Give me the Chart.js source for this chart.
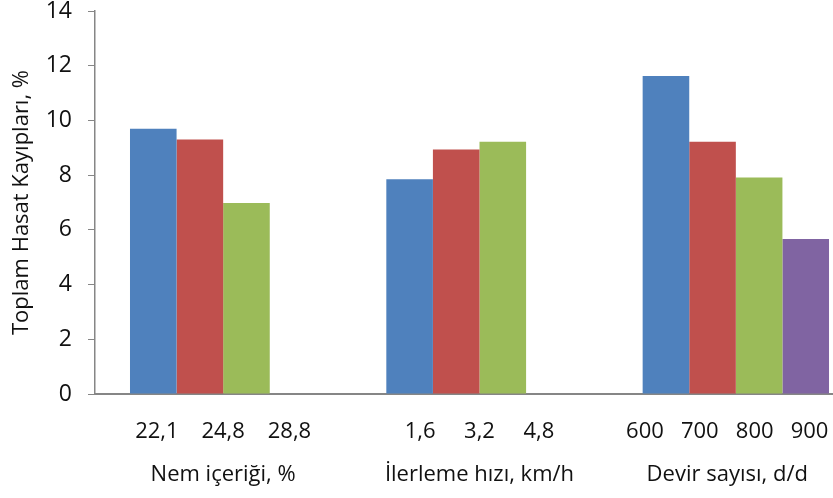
<!DOCTYPE html>
<html>
<head>
<meta charset="utf-8">
<script src="https://cdn.jsdelivr.net/npm/chart.js@4/dist/chart.umd.min.js"></script>
<style>
  html, body { margin: 0; padding: 0; background: #fff; overflow: hidden; width: 833px; height: 498px; }
  #wrap { width: 864px; height: 498px; }
</style>
</head>
<body>
<div id="wrap"><canvas id="c" width="864" height="498"></canvas></div>
<script>
// Factor groups and the level values tested within each group
const groupNames = ["Nem içeriği, %", "İlerleme hızı, km/h", "Devir sayısı, d/d   "];
const levelLabels = [
  ["22,1", "24,8", "28,8"],
  ["1,6", "3,2", "4,8"],
  ["600", "700", "800", "900   "]
];
const levelGaps = ["    ", "     ", "   "];

// Total harvest losses (%) for the 1st..4th level of each factor
const level1 = [9.7, 7.85, 11.62];
const level2 = [9.3, 8.94, 9.22];
const level3 = [6.98, 9.22, 7.91];
const level4 = [null, null, 5.67];

const yTicks = [0, 2, 4, 6, 8, 10, 12, 14];

const categories = groupNames.map((g, i) => [levelLabels[i].join(levelGaps[i]), "", g]);

const axisGray = "#868686";
const font = "'Open Sans', Lato, sans-serif";

new Chart(document.getElementById("c"), {
  type: "bar",
  data: {
    labels: categories,
    datasets: [
      { data: level1, backgroundColor: "#4F81BD" },
      { data: level2, backgroundColor: "#C0504D" },
      { data: level3, backgroundColor: "#9BBB59" },
      { data: level4, backgroundColor: "#8064A2" }
    ]
  },
  options: {
    responsive: false,
    devicePixelRatio: 1,
    animation: false,
    layout: { padding: { top: 11, right: 0, bottom: 0, left: 0 } },
    datasets: { bar: { categoryPercentage: 0.727, barPercentage: 1.0, borderWidth: 0 } },
    plugins: { legend: { display: false }, tooltip: { enabled: false } },
    scales: {
      x: {
        grid: { display: false, drawTicks: false },
        border: { display: true, color: axisGray, width: 2 },
        ticks: {
          maxRotation: 0, autoSkip: false, padding: 27,
          color: "#111", font: { family: font, size: 22, lineHeight: 0.98 }
        },
        afterFit(s) { s.height = 104; s.paddingLeft = 0; s.paddingRight = 0; }
      },
      y: {
        min: 0, max: 14,
        afterBuildTicks(s) { s.ticks = yTicks.map(v => ({ value: v })); },
        grid: { display: true, drawOnChartArea: false, drawTicks: true, tickLength: 7, color: axisGray, lineWidth: 1 },
        border: { display: true, color: axisGray, width: 1.5 },
        ticks: { padding: 16, color: "#111", font: { family: font, size: 23 } },
        title: {
          display: true, text: "Toplam Hasat Kayıpları, %",
          color: "#111", font: { family: font, size: 22 }, padding: { top: 9, bottom: 0 }
        },
        afterFit(s) { s.width = 95; s.paddingTop = 0; s.paddingBottom = 0; }
      }
    }
  }
});
</script>
</body>
</html>
